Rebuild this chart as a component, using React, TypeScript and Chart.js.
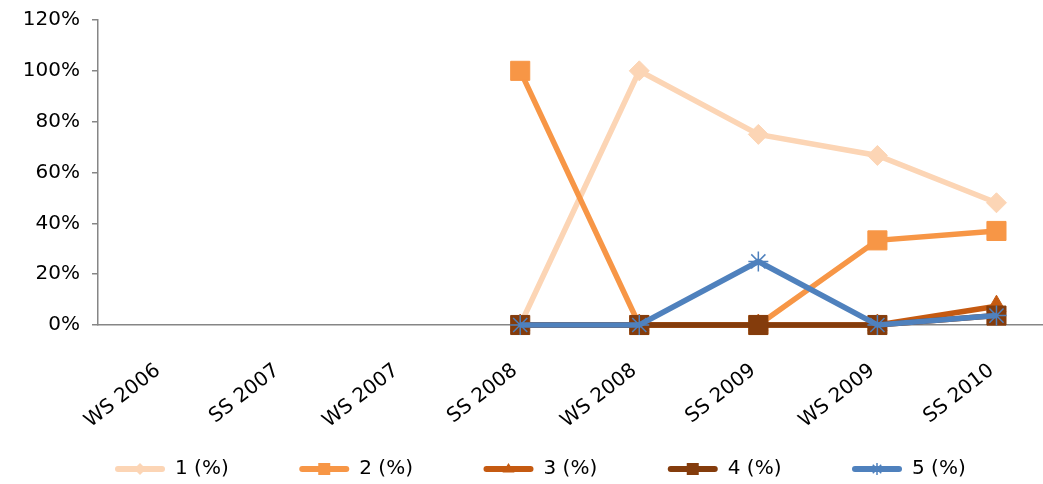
import React, { useEffect, useRef } from "react";
import { Chart, registerables } from "chart.js";

Chart.register(...registerables);

const categories = ["WS 2006", "SS 2007", "WS 2007", "SS 2008", "WS 2008", "SS 2009", "WS 2009", "SS 2010"];
const seriesNames = ["1 (%)", "2 (%)", "3 (%)", "4 (%)", "5 (%)"];
const series1 = [null, null, null, 0, 100, 75, 66.7, 48.1];
const series2 = [null, null, null, 100, 0, 0, 33.3, 37.0];
const series3 = [null, null, null, 0, 0, 0, 0, 7.4];
const series4 = [null, null, null, 0, 0, 0, 0, 3.7];
const series5 = [null, null, null, 0, 0, 25, 0, 3.7];
const yTicks = [0, 20, 40, 60, 80, 100, 120];

const colors = ["#FCD5B5", "#F79646", "#C55A11", "#843C0C", "#4F81BD"];
const styles = ["rectRot", "rect", "triangle", "rect", "star"];
const radii = [10, 13.5, 11, 13.5, 10];
const legendSizes = [6, 6, 6, 6, 6];

const FONT = "'DejaVu Sans', Verdana, sans-serif";

function drawMarker(ctx: CanvasRenderingContext2D, style: string, x: number, y: number, r: number, color: string) {
  ctx.fillStyle = color;
  ctx.strokeStyle = color;
  ctx.lineWidth = 1.5;
  ctx.beginPath();
  if (style === "rect") {
    ctx.rect(x - r, y - r, 2 * r, 2 * r);
    ctx.fill();
  } else if (style === "rectRot") {
    ctx.moveTo(x, y - r);
    ctx.lineTo(x + r, y);
    ctx.lineTo(x, y + r);
    ctx.lineTo(x - r, y);
    ctx.closePath();
    ctx.fill();
  } else if (style === "triangle") {
    ctx.moveTo(x, y - r);
    ctx.lineTo(x + r, y + r * 0.6);
    ctx.lineTo(x - r, y + r * 0.6);
    ctx.closePath();
    ctx.fill();
  } else {
    for (let k = 0; k < 4; k++) {
      const a = (k * Math.PI) / 4;
      ctx.moveTo(x + Math.cos(a) * r, y + Math.sin(a) * r);
      ctx.lineTo(x - Math.cos(a) * r, y - Math.sin(a) * r);
    }
    ctx.stroke();
  }
}

const legendPlugin = {
  id: "lineLegend",
  afterDraw(chart: any) {
    const ctx = chart.ctx;
    const startX = 115;
    const step = 184.25;
    const y = 469;
    ctx.save();
    chart.data.datasets.forEach((ds: any, i: number) => {
      const x0 = startX + i * step;
      ctx.strokeStyle = ds.borderColor;
      ctx.lineWidth = 6;
      ctx.lineCap = "round";
      ctx.beginPath();
      ctx.moveTo(x0 + 3, y);
      ctx.lineTo(x0 + 47, y);
      ctx.stroke();
      ctx.lineCap = "butt";
      drawMarker(ctx, styles[i], x0 + 25, y, legendSizes[i], ds.borderColor);
      ctx.fillStyle = "#000";
      ctx.font = `20px ${FONT}`;
      ctx.textBaseline = "middle";
      ctx.textAlign = "left";
      ctx.fillText(seriesNames[i], x0 + 60, y);
    });
    ctx.restore();
  },
};

export default function App() {
  const ref = useRef<HTMLCanvasElement>(null);
  useEffect(() => {
    const data = [series1, series2, series3, series4, series5];
    const chart = new Chart(ref.current!, {
      type: "line",
      data: {
        datasets: data.map((vals, i) => ({
          label: seriesNames[i],
          data: vals.map((v, j) => ({ x: j, y: v })),
          borderColor: colors[i],
          backgroundColor: colors[i],
          pointBackgroundColor: colors[i],
          pointBorderColor: colors[i],
          pointStyle: styles[i],
          pointRadius: radii[i],
          pointHoverRadius: radii[i],
          pointBorderWidth: styles[i] === "star" ? 1.5 : 1,
          borderWidth: 5.5,
          spanGaps: false,
          clip: false,
          order: 5 - i,
          tension: 0,
        })),
      },
      options: {
        animation: false,
        responsive: true,
        maintainAspectRatio: false,
        layout: { padding: { top: 20, right: 0, left: 0, bottom: 0 } },
        plugins: { legend: { display: false }, tooltip: { enabled: false } },
        scales: {
          x: {
            type: "linear",
            min: -0.546,
            max: 7.395,
            afterBuildTicks: (scale: any) => {
              scale.ticks = categories.map((_, i) => ({ value: i }));
            },
            afterFit: (scale: any) => {
              scale.height = 159;
            },
            grid: { display: false, drawTicks: false },
            border: { display: true, color: "#868686", width: 1.5 },
            ticks: {
              autoSkip: false,
              minRotation: 38,
              maxRotation: 38,
              padding: 30,
              color: "#000",
              font: { family: FONT, size: 20 },
              callback: (v: any) => (categories[v] ? categories[v] + " " : ""),
            },
          },
          y: {
            min: 0,
            max: 120,
            afterBuildTicks: (scale: any) => {
              scale.ticks = yTicks.map((v) => ({ value: v }));
            },
            afterFit: (scale: any) => {
              scale.width = 98;
              scale.paddingTop = 0;
              scale.paddingBottom = 0;
            },
            grid: { drawOnChartArea: false, drawTicks: true, tickLength: 6, color: "#868686", lineWidth: 1.5 },
            border: { display: true, color: "#868686", width: 1.5 },
            ticks: {
              padding: 12,
              color: "#000",
              font: { family: FONT, size: 20 },
              callback: (v: any) => `${v}%`,
            },
          },
        },
      },
      plugins: [legendPlugin],
    });
    return () => chart.destroy();
  }, []);
  return (
    <div style={{ position: "absolute", left: 0, top: 0, width: 1043, height: 484, overflow: "hidden" }}>
      <div style={{ position: "relative", width: 1058, height: 484 }}>
        <canvas ref={ref} />
      </div>
    </div>
  );
}
